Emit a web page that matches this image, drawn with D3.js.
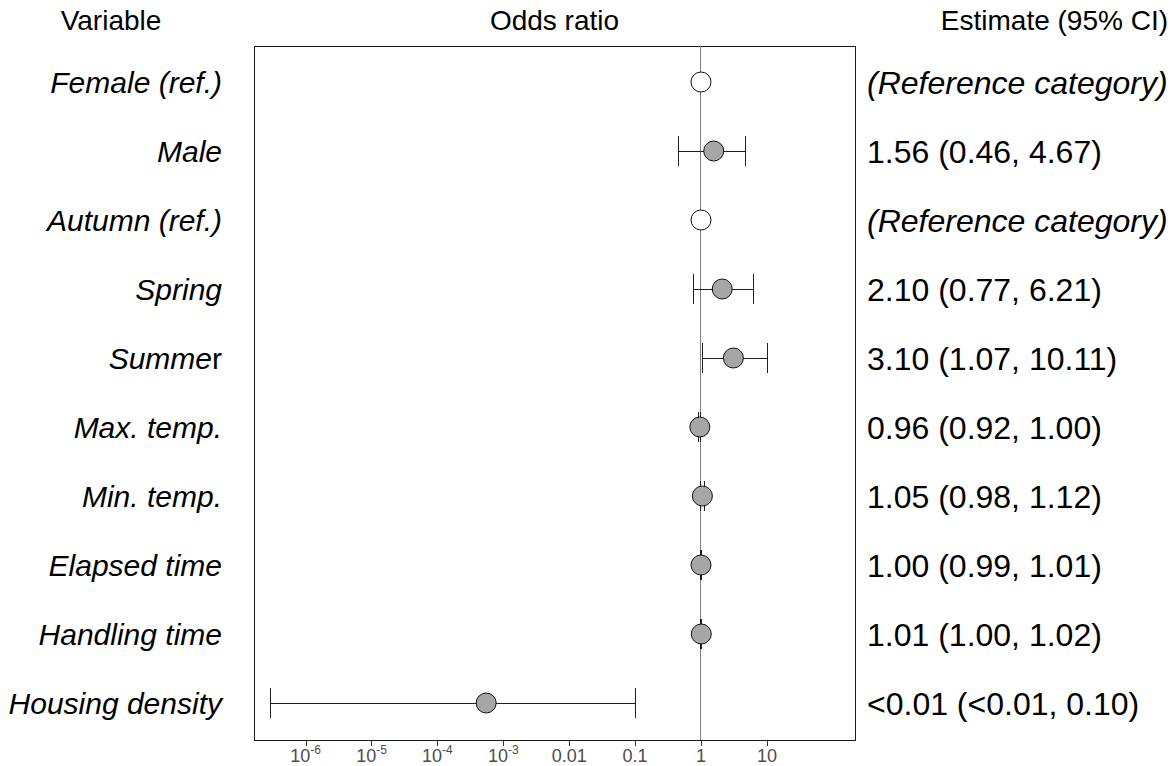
<!DOCTYPE html>
<html>
<head>
<meta charset="utf-8">
<script src="https://cdn.jsdelivr.net/npm/d3@7"></script>
<style>
  html, body { margin: 0; padding: 0; background: #fff; }
  svg { display: block; font-family: "Liberation Sans", Arial, sans-serif; }
</style>
</head>
<body>
<svg id="chart" width="1175" height="766"></svg>
<script>
// Model terms, top to bottom
const variables = ["Female (ref.)", "Male", "Autumn (ref.)", "Spring", "Summer",
  "Max. temp.", "Min. temp.", "Elapsed time", "Handling time", "Housing density"];
// Odds ratios with 95% confidence limits (null = reference category)
const oddsRatio = [1, 1.56, 1, 2.10, 3.10, 0.96, 1.05, 1.00, 1.01, 0.00055];
const lowerCI   = [null, 0.46, null, 0.77, 1.07, 0.92, 0.98, 0.99, 1.00, 2.9e-7];
const upperCI   = [null, 4.67, null, 6.21, 10.11, 1.00, 1.12, 1.01, 1.02, 0.10];
const isReference = [true, false, true, false, false, false, false, false, false, false];
const estimateText = ["(Reference category)", "1.56 (0.46, 4.67)", "(Reference category)",
  "2.10 (0.77, 6.21)", "3.10 (1.07, 10.11)", "0.96 (0.92, 1.00)", "1.05 (0.98, 1.12)",
  "1.00 (0.99, 1.01)", "1.01 (1.00, 1.02)", "<0.01 (<0.01, 0.10)"];
// Axis ticks
const tickValues = [1e-6, 1e-5, 1e-4, 1e-3, 0.01, 0.1, 1, 10];
const tickBase = ["10", "10", "10", "10", "0.01", "0.1", "1", "10"];
const tickExp  = ["-6", "-5", "-4", "-3", "", "", "", ""];

const svg = d3.select("#chart");
const panel = { left: 254, right: 855, top: 46, bottom: 740 };

const x = d3.scaleLog()
  .domain([Math.pow(10, -6.783), Math.pow(10, 2.337)])
  .range([panel.left, panel.right]);

const y = d3.scalePoint()
  .domain(variables)
  .range([82, 703]);

const headSize = 28, nameSize = 30, estSize = 32;

// Column headers
svg.append("text").attr("x", 111).attr("y", 30).attr("text-anchor", "middle")
  .attr("font-size", headSize).text("Variable");
svg.append("text").attr("x", (panel.left + panel.right) / 2).attr("y", 30)
  .attr("text-anchor", "middle").attr("font-size", headSize).text("Odds ratio");
svg.append("text").attr("x", 1168).attr("y", 30).attr("text-anchor", "end")
  .attr("font-size", headSize).text("Estimate (95% CI)");

// Panel frame
svg.append("rect")
  .attr("x", panel.left).attr("y", panel.top)
  .attr("width", panel.right - panel.left).attr("height", panel.bottom - panel.top)
  .attr("fill", "none").attr("stroke", "#1a1a1a").attr("stroke-width", 1)
  .attr("shape-rendering", "crispEdges");

// Line of no effect
svg.append("line")
  .attr("x1", x(1)).attr("x2", x(1))
  .attr("y1", panel.top).attr("y2", panel.bottom)
  .attr("stroke", "#7f7f7f").attr("stroke-width", 1)
  .attr("shape-rendering", "crispEdges");

// Bottom axis
const axis = d3.axisBottom(x).tickValues(tickValues).tickSize(6).tickFormat("");
const gAxis = svg.append("g").attr("transform", `translate(0,${panel.bottom})`).call(axis);
gAxis.select(".domain").remove();
gAxis.selectAll(".tick line").attr("stroke", "#333").attr("shape-rendering", "crispEdges");
svg.append("line").attr("x1", panel.left).attr("x2", panel.right)
  .attr("y1", panel.bottom).attr("y2", panel.bottom).attr("stroke", "#1a1a1a")
  .attr("shape-rendering", "crispEdges");

const tickLabels = svg.append("g").attr("font-size", 18).attr("fill", "#4d4d4d");
tickValues.forEach((v, i) => {
  const t = tickLabels.append("text")
    .attr("x", x(v)).attr("y", 762).attr("text-anchor", "middle");
  t.append("tspan").text(tickBase[i]);
  if (tickExp[i]) {
    t.append("tspan").attr("font-size", 12).attr("dy", -8).text(tickExp[i]);
  }
});

// Confidence intervals
const rows = variables.map((v, i) => ({
  name: v, or: oddsRatio[i], lo: lowerCI[i], hi: upperCI[i], ref: isReference[i], est: estimateText[i]
}));
const ci = rows.filter(d => !d.ref);
const cap = 15;
const gCI = svg.append("g").attr("stroke", "#1f1f1f").attr("stroke-width", 1)
  .attr("shape-rendering", "crispEdges");
gCI.selectAll("line.bar").data(ci).join("line").attr("class", "bar")
  .attr("x1", d => x(d.lo)).attr("x2", d => x(d.hi))
  .attr("y1", d => y(d.name)).attr("y2", d => y(d.name));
gCI.selectAll("line.lo").data(ci).join("line").attr("class", "lo")
  .attr("x1", d => x(d.lo)).attr("x2", d => x(d.lo))
  .attr("y1", d => y(d.name) - cap).attr("y2", d => y(d.name) + cap);
gCI.selectAll("line.hi").data(ci).join("line").attr("class", "hi")
  .attr("x1", d => x(d.hi)).attr("x2", d => x(d.hi))
  .attr("y1", d => y(d.name) - cap).attr("y2", d => y(d.name) + cap);

// Point estimates
svg.append("g").selectAll("circle").data(rows).join("circle")
  .attr("cx", d => x(d.or)).attr("cy", d => y(d.name)).attr("r", 10)
  .attr("fill", d => d.ref ? "#fff" : "#a6a6a6")
  .attr("stroke", "#111").attr("stroke-width", 1);

// Variable names (italic; "Summer" keeps an upright final letter)
const gNames = svg.append("g").attr("font-size", nameSize).attr("text-anchor", "end");
rows.forEach(d => {
  const t = gNames.append("text").attr("x", 222).attr("y", y(d.name)).attr("dy", "0.36em");
  if (d.name === "Summer") {
    t.append("tspan").attr("font-style", "italic").text("Summe");
    t.append("tspan").text("r");
  } else {
    t.attr("font-style", "italic").text(d.name);
  }
});

// Estimates with confidence intervals
svg.append("g").attr("font-size", estSize).selectAll("text").data(rows).join("text")
  .attr("x", 867).attr("y", d => y(d.name)).attr("dy", "0.36em")
  .attr("font-style", d => d.ref ? "italic" : "normal")
  .text(d => d.est);
</script>
</body>
</html>
